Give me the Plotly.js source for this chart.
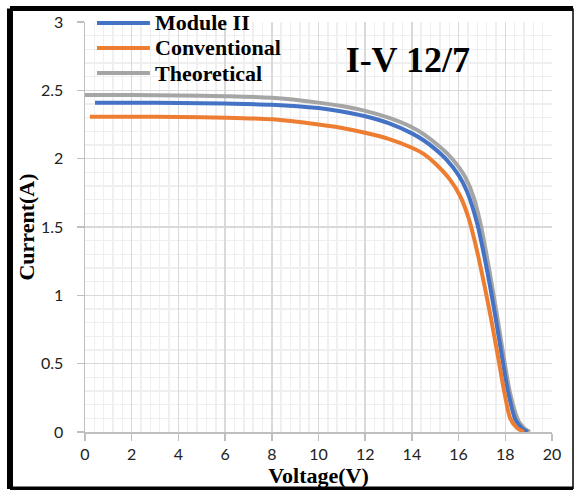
<!DOCTYPE html>
<html>
<head>
<meta charset="utf-8">
<script src="https://cdn.plot.ly/plotly-3.0.1.min.js"></script>
<style>
html,body{margin:0;padding:0;background:#fff;}
#chart{width:576px;height:490px;}
</style>
</head>
<body>
<div id="chart"></div>
<script>
// ---- data ----
const seriesNames = ["Module II", "Conventional", "Theoretical"];
const seriesColors = ["#4472C4", "#ED7D31", "#A5A5A5"];

const moduleV = [0.43, 2, 4, 6, 8, 10, 11, 12, 13, 14, 14.5, 15, 15.5, 16, 16.36, 16.79, 17.2, 17.57, 17.86, 18.1, 18.43, 18.7, 18.95];
const moduleI = [2.41, 2.41, 2.408, 2.403, 2.395, 2.37, 2.345, 2.31, 2.26, 2.185, 2.135, 2.07, 1.99, 1.88, 1.76, 1.53, 1.20, 0.85, 0.55, 0.31, 0.09, 0.03, 0];

const convV = [0.21, 2, 4, 6, 8, 10, 11, 12, 13, 14, 14.5, 15, 15.64, 16.07, 16.43, 16.79, 17.14, 17.4, 17.71, 17.96, 18.21, 18.5, 18.8];
const convI = [2.307, 2.307, 2.305, 2.30, 2.288, 2.25, 2.225, 2.19, 2.145, 2.08, 2.035, 1.965, 1.845, 1.725, 1.565, 1.325, 1.045, 0.82, 0.53, 0.29, 0.10, 0.03, 0];

const theoV = [0, 2, 4, 6, 8, 10, 11, 12, 13, 14, 14.5, 15, 15.5, 16, 16.3, 16.64, 16.93, 17.29, 17.64, 17.93, 18.2, 18.57, 18.8, 19.05];
const theoI = [2.466, 2.466, 2.463, 2.457, 2.445, 2.41, 2.385, 2.35, 2.30, 2.23, 2.18, 2.115, 2.04, 1.94, 1.86, 1.72, 1.53, 1.21, 0.86, 0.55, 0.29, 0.08, 0.03, 0];

const xTickVals = [0, 2, 4, 6, 8, 10, 12, 14, 16, 18, 20];
const yTickVals = [0, 0.5, 1, 1.5, 2, 2.5, 3];
const yTickText = ["0", "0.5", "1", "1.5", "2", "2.5", "3"];

const chartTitle = "I-V 12/7";
const xTitle = "Voltage(V)";
const yTitle = "Current(A)";

// ---- build ----
const serif = "Liberation Serif, Times New Roman, serif";
const sans = "Lato, Open Sans, sans-serif";
const xs = [moduleV, convV, theoV];
const ys = [moduleI, convI, theoI];

const traces = seriesNames.map((n, i) => ({
  type: "scatter", mode: "lines", name: n,
  x: xs[i], y: ys[i],
  line: {color: seriesColors[i], width: 4, shape: "spline", smoothing: 0.7},
  showlegend: false, hoverinfo: "skip"
}));
// draw order: theoretical at back
const ordered = [traces[2], traces[0], traces[1]];

// manual legend built from the series arrays
const legendY = [0.9976, 0.9366, 0.8756];
const shapes = [];
const annotations = [];
seriesNames.forEach((n, i) => {
  shapes.push({type: "line", xref: "paper", yref: "paper", x0: 0.0257, x1: 0.139, y0: legendY[i], y1: legendY[i],
    line: {color: seriesColors[i], width: 4}});
  annotations.push({xref: "paper", yref: "paper", x: 0.146, y: legendY[i], xanchor: "left", yanchor: "middle",
    text: n, showarrow: false, font: {family: serif, size: 22, color: "#000", weight: "bold"}});
});

// frame
const fl = -0.1606, fr = 1.045, ft = 1.033, fb = -0.139;
shapes.push({type: "line", xref: "paper", yref: "paper", x0: fl, x1: fl, y0: fb, y1: ft, line: {color: "#000", width: 6}});
shapes.push({type: "line", xref: "paper", yref: "paper", x0: fl, x1: fr, y0: ft, y1: ft, line: {color: "#000", width: 5}});
shapes.push({type: "line", xref: "paper", yref: "paper", x0: fl, x1: fr, y0: fb, y1: fb, line: {color: "#000", width: 5}});
shapes.push({type: "line", xref: "paper", yref: "paper", x0: fr, x1: fr, y0: fb, y1: ft, line: {color: "#000", width: 1.5}});

const axisCommon = {
  showgrid: true, gridcolor: "#D9D9D9", gridwidth: 1.5,
  showline: true, linecolor: "#BFBFBF", linewidth: 1.5,
  ticks: "outside", tickcolor: "#BFBFBF", ticklen: 7, tickwidth: 1.5,
  zeroline: false, tickfont: {family: sans, size: 16, color: "#222"},
  automargin: false, fixedrange: true
};

const layout = {
  width: 576, height: 490,
  margin: {l: 85, r: 24, t: 22, b: 58},
  paper_bgcolor: "#fff", plot_bgcolor: "#fff",
  showlegend: false,
  title: {text: chartTitle, x: 0.708, xanchor: "center", y: 0.878, yanchor: "middle", xref: "container", yref: "container",
    font: {family: serif, size: 36, color: "#000", weight: "bold"}},
  xaxis: Object.assign({}, axisCommon, {
    range: [0, 20], tickvals: xTickVals,
    minor: {dtick: 0.4, tick0: 0, showgrid: true, gridcolor: "#EFEFEF", gridwidth: 1.5, ticks: ""},
    title: {text: xTitle, standoff: 0, font: {family: serif, size: 22, color: "#000", weight: "bold"}}
  }),
  yaxis: Object.assign({}, axisCommon, {
    range: [0, 3], tickvals: yTickVals, ticktext: yTickText, ticklabelstandoff: 10,
    minor: {dtick: 0.1, tick0: 0, showgrid: true, gridcolor: "#EFEFEF", gridwidth: 1.5, ticks: ""},
    title: {text: yTitle, standoff: 0, font: {family: serif, size: 22, color: "#000", weight: "bold"}}
  }),
  shapes: shapes,
  annotations: annotations
};

Plotly.newPlot("chart", ordered, layout, {staticPlot: true, displayModeBar: false});
</script>
</body>
</html>
